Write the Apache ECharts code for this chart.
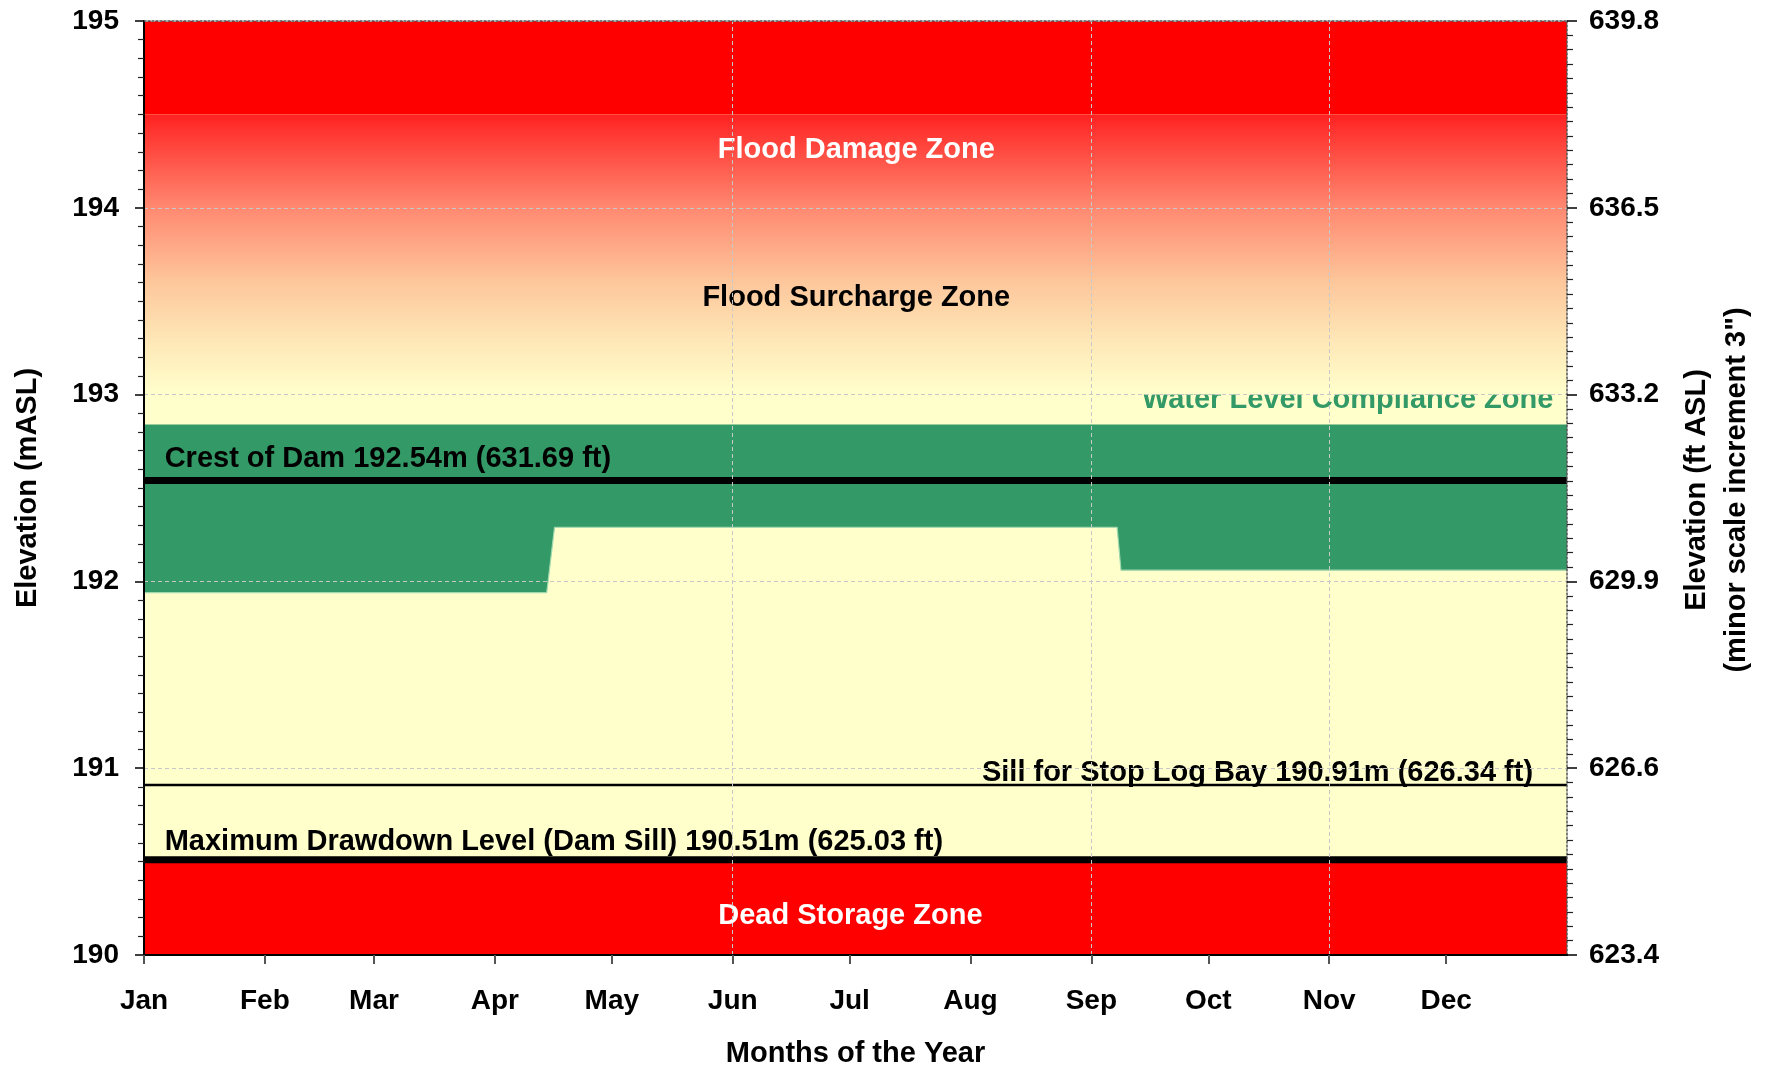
<!DOCTYPE html>
<html>
<head>
<meta charset="utf-8">
<script src="https://cdn.jsdelivr.net/npm/echarts@6/dist/echarts.min.js"></script>
<style>
    html, body {margin: 0; padding: 0; background: #fff;}
    #main {width: 1768px; height: 1073px;}
</style>
</head>
<body>
<div id="main"></div>
<script>
var M_TO_FT = 3.28084

// x axis = day of the year
var monthNames = ['Jan', 'Feb', 'Mar', 'Apr', 'May', 'Jun', 'Jul', 'Aug', 'Sep', 'Oct', 'Nov', 'Dec']
var monthStartDays = [0, 31, 59, 90, 120, 151, 181, 212, 243, 273, 304, 334]
var gridLineDays = [151, 243, 304]   // vertical grid only at Jun, Sep, Nov

// zones (mASL)
var floodDamageZone = [194.5, 195]
var floodSurchargeZone = [193, 194.5]
var deadStorageTop = 190.51

// water level compliance band
var complianceDays = [0, 103.3, 105.3, 249.6, 250.6, 365]
var complianceBottom = [191.94, 191.94, 192.29, 192.29, 192.06, 192.06]
var complianceTop = [192.84, 192.84, 192.84, 192.84, 192.84, 192.84]

// reference levels
var levelValues = [192.54, 190.91, 190.51]
var levelLabels = ['Crest of Dam 192.54m (631.69 ft)', 'Sill for Stop Log Bay 190.91m (626.34 ft)', 'Maximum Drawdown Level (Dam Sill) 190.51m (625.03 ft)']

var FONT = '"Liberation Sans", Arial, Helvetica, sans-serif'
var GREEN = '#339966'
var YELLOW = '#FFFFCC'

function pairs(xs, ys) {
    return xs.map(function (x, i) { return [x, ys[i]] })
}
function flatLine(v) {
    return [[0, v], [365, v]]
}
function boldText(size, color) {
    return {fontFamily: FONT, fontSize: size, fontWeight: 'bold', color: color || '#000'}
}

var chart = echarts.init(document.getElementById('main'))

var levelWidths = [7, 2.5, 7]
var levelSeries = levelValues.map(function (v, i) {
    var s = {
        name: levelLabels[i],
        type: 'line',
        data: flatLine(v),
        symbol: 'none',
        silent: true,
        z: 4,
        lineStyle: {color: '#000', width: levelWidths[i]}
    }
    if (i === 0) {
        //竖向网格线
        s.markLine = {
            silent: true,
            z: 10,
            symbol: 'none',
            label: {show: false},
            lineStyle: {color: '#c8c8c8', width: 1, type: [4, 3]},
            data: gridLineDays.map(function (d) { return {xAxis: d} })
        }
    }
    return s
})

var option = {
    animation: false,
    backgroundColor: '#fff',
    grid: {left: 144, right: 201, top: 21, bottom: 115, show: true, backgroundColor: YELLOW, borderWidth: 0},
    xAxis: [{
        type: 'value', min: 0, max: 365, z: 10,
        name: 'Months of the Year', nameLocation: 'middle', nameGap: 84,
        nameTextStyle: boldText(29),
        axisLine: {show: true, onZero: false, lineStyle: {color: '#000', width: 2}},
        axisTick: {show: true, customValues: monthStartDays, length: 9, lineStyle: {color: '#555', width: 2}},
        axisLabel: {
            customValues: monthStartDays, margin: 32,
            fontFamily: FONT, fontSize: 28, fontWeight: 'bold', color: '#000',
            formatter: function (v) { return monthNames[monthStartDays.indexOf(v)] }
        },
        splitLine: {show: false}
    }, {
        type: 'value', min: 0, max: 365, position: 'top', z: 10,
        axisLine: {show: true, onZero: false, lineStyle: {color: '#555', width: 1.5, type: [2, 2]}},
        axisTick: {show: false}, axisLabel: {show: false}, splitLine: {show: false}
    }],
    yAxis: [{
        type: 'value', min: 190, max: 195, interval: 1, position: 'left', z: 10,
        name: 'Elevation (mASL)', nameLocation: 'middle', nameGap: 102,
        nameTextStyle: boldText(29),
        axisLine: {show: true, onZero: false, lineStyle: {color: '#000', width: 2}},
        axisTick: {show: true, length: 9, lineStyle: {color: '#000', width: 1.5}},
        minorTick: {show: true, splitNumber: 10, length: 6, lineStyle: {color: '#222', width: 1.2}},
        axisLabel: {margin: 25, fontFamily: FONT, fontSize: 28, fontWeight: 'bold', color: '#000', showMinLabel: true, showMaxLabel: true},
        splitLine: {show: true, lineStyle: {color: '#c8c8c8', width: 1, type: [4, 3]}}
    }, {
        type: 'value', min: 190 * M_TO_FT, max: 195 * M_TO_FT, interval: M_TO_FT, position: 'right', z: 10,
        axisLine: {show: true, onZero: false, lineStyle: {color: '#555', width: 1.5, type: [2, 2]}},
        axisTick: {show: true, length: 10, lineStyle: {color: '#000', width: 1.5}},
        minorTick: {show: true, splitNumber: 13, length: 6, lineStyle: {color: '#222', width: 1.2}},
        axisLabel: {
            margin: 22, fontFamily: FONT, fontSize: 28, fontWeight: 'bold', color: '#000',
            showMinLabel: true, showMaxLabel: true,
            formatter: function (v) { return v.toFixed(1) }
        },
        splitLine: {show: false}
    }],
    series: [{
        // 上部洪水区 (markArea)
        name: 'floodZones',
        type: 'line',
        data: flatLine(floodDamageZone[1]),
        symbol: 'none',
        silent: true,
        lineStyle: {width: 0},
        z: 2,
        markArea: {
            silent: true,
            itemStyle: {opacity: 1, borderWidth: 0},
            label: {show: false},
            data: [
                [{xAxis: 0, yAxis: floodDamageZone[0], itemStyle: {color: '#FF0000', opacity: 1}}, {xAxis: 365, yAxis: floodDamageZone[1]}],
                [{xAxis: 0, yAxis: floodSurchargeZone[0], itemStyle: {opacity: 1, color: {
                    type: 'linear', x: 0, y: 0, x2: 0, y2: 1,
                    colorStops: [
                        {offset: 0, color: '#FF2222'},
                        {offset: 0.33, color: '#FF8870'},
                        {offset: 0.6, color: '#FDC79C'},
                        {offset: 0.82, color: '#FEE9B8'},
                        {offset: 1, color: YELLOW}
                    ]
                }}}, {xAxis: 365, yAxis: floodSurchargeZone[1]}]
            ]
        }
    }, {
        // compliance zone: fill top down, then paint yellow below the bottom edge
        name: 'complianceTop',
        type: 'line',
        data: pairs(complianceDays, complianceTop),
        symbol: 'none',
        silent: true,
        z: 2,
        lineStyle: {width: 0},
        areaStyle: {color: GREEN, opacity: 1, origin: 'start'}
    }, {
        name: 'complianceBottom',
        type: 'line',
        data: pairs(complianceDays, complianceBottom),
        symbol: 'none',
        silent: true,
        z: 3,
        lineStyle: {color: '#9fd8ae', width: 1.2},
        areaStyle: {color: YELLOW, opacity: 1, origin: 'start'}
    }, {
        name: 'Dead Storage Zone',
        type: 'line',
        data: flatLine(deadStorageTop),
        symbol: 'none',
        silent: true,
        z: 3,
        lineStyle: {width: 0},
        areaStyle: {color: '#FF0000', opacity: 1, origin: 'start'}
    }].concat(levelSeries)
}

chart.setOption(option)

// 注释文字
var notes = [
    {text: 'Flood Damage Zone', day: 182.7, level: 194.31, align: 'center', color: '#fff', z: 5},
    {text: 'Flood Surcharge Zone', day: 182.7, level: 193.515, align: 'center', color: '#000', z: 5},
    {text: 'Water Level Compliance Zone', day: 361.5, level: 192.972, align: 'right', color: GREEN, z: 0.5},
    {text: levelLabels[0], day: 5.3, level: 192.657, align: 'left', color: '#000', z: 5},
    {text: levelLabels[1], day: 356.3, level: 190.975, align: 'right', color: '#000', z: 5},
    {text: levelLabels[2], day: 5.3, level: 190.603, align: 'left', color: '#000', z: 5},
    {text: 'Dead Storage Zone', day: 181.2, level: 190.21, align: 'center', color: '#fff', z: 5}
]

var elements = notes.map(function (n) {
    var p = chart.convertToPixel({xAxisIndex: 0, yAxisIndex: 0}, [n.day, n.level])
    return {
        type: 'text',
        x: p[0], y: p[1], z: n.z,
        silent: true,
        style: {
            text: n.text, fill: n.color, align: n.align, verticalAlign: 'middle',
            font: 'bold 29px ' + FONT
        }
    }
})

elements.push({
    type: 'text',
    x: 1717, y: 490, z: 5,
    rotation: Math.PI / 2,
    silent: true,
    style: {
        text: 'Elevation (ft ASL)\n(minor scale increment 3")',
        fill: '#000', align: 'center', verticalAlign: 'middle', lineHeight: 40,
        font: 'bold 29px ' + FONT
    }
})

chart.setOption({graphic: {elements: elements}})
</script>
</body>
</html>
